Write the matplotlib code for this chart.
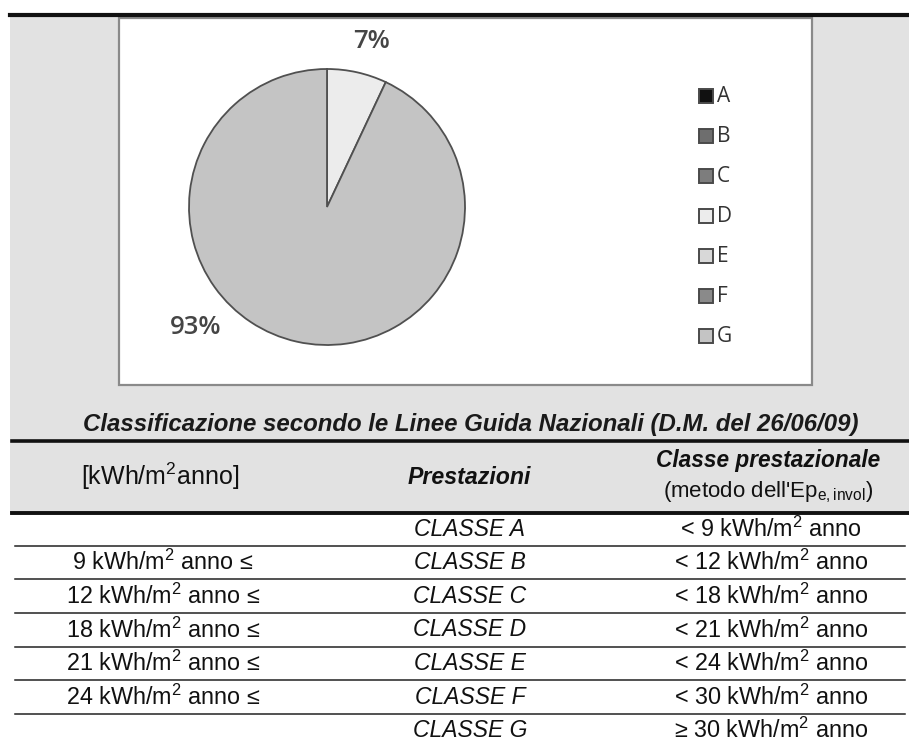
import matplotlib
matplotlib.use('Agg')
import matplotlib.pyplot as plt
from matplotlib.patches import Rectangle

# ---------------- data ----------------
classes = ['A', 'B', 'C', 'D', 'E', 'F', 'G']
shares = [0, 0, 0, 7, 0, 0, 93]          # percent of buildings per class
class_colors = ['#111111', '#6e6e6e', '#7d7d7d', '#ececec', '#d8d8d8', '#8a8a8a', '#c4c4c4']

title = 'Classificazione secondo le Linee Guida Nazionali (D.M. del 26/06/09)'
thresholds = [9, 12, 18, 21, 24, 30]      # kWh/m2 anno
SQ = r'$^{\mathregular{2}}$'
unit = f'kWh/m{SQ} anno'
lower_labels = [''] + [f'{t} {unit} ≤' for t in thresholds[:-1]] + ['']
class_labels = [f'CLASSE {c}' for c in classes]
upper_labels = [f'< {t} {unit}' for t in thresholds] + [f'≥ {thresholds[-1]} {unit}']

# ---------------- figure ----------------
W, H = 909, 742
plt.rcParams['mathtext.fontset'] = 'custom'
plt.rcParams['mathtext.rm'] = 'Liberation Sans'
plt.rcParams['mathtext.it'] = 'Liberation Sans:italic'
TF = ['Liberation Sans', 'DejaVu Sans']
CF = ['Open Sans', 'DejaVu Sans']

fig = plt.figure(figsize=(W / 100, H / 100), dpi=100)
ax = fig.add_axes([0, 0, 1, 1])


def fy(y):
    return H - y

GREY = '#e2e2e2'
# grey page block
ax.add_patch(Rectangle((10, fy(513)), W - 10, 513 - 16, facecolor=GREY, edgecolor='none', zorder=0))
# white chart box
ax.add_patch(Rectangle((119, fy(385)), 812 - 119, 385 - 18, facecolor='white',
                       edgecolor='#8a8a8a', linewidth=1.6, zorder=1))

# pie (only non-zero classes form wedges)
vals = [s for s in shares if s > 0]
cols = [c for s, c in zip(shares, class_colors) if s > 0]
wedges, _ = ax.pie(vals, colors=cols, startangle=90, counterclock=False,
                   center=(327, fy(207)), radius=138, frame=True,
                   wedgeprops=dict(edgecolor='#505050', linewidth=1.3))
for w in wedges:
    w.set_zorder(3)

ax.text(371, fy(41), f'{vals[0]}%', family=CF, fontsize=18.5, fontweight='semibold',
        color='#454545', ha='center', va='center', zorder=4)
ax.text(196, fy(327), f'{vals[1]}%', family=CF, fontsize=18.5, fontweight='semibold',
        color='#454545', ha='center', va='center', zorder=4)

# legend
leg_y0, leg_dy = 96, 40
for i, (c, col) in enumerate(zip(classes, class_colors)):
    y = leg_y0 + i * leg_dy
    ax.add_patch(Rectangle((699, fy(y + 7)), 14, 14, facecolor=col,
                           edgecolor='#4a4a4a', linewidth=1.4, zorder=4))
    ax.text(717, fy(y), c, family=CF, fontsize=15, color='#333333',
            ha='left', va='center', zorder=4)

# horizontal rules
ax.plot([10, W], [fy(15), fy(15)], color='#111111', linewidth=3.0, zorder=5)
ax.plot([12, W], [fy(441), fy(441)], color='#111111', linewidth=2.6, zorder=5)
ax.plot([12, W], [fy(513), fy(513)], color='#111111', linewidth=2.8, zorder=5)

# title
ax.text(471, fy(425), title, family=TF, fontsize=17.3, fontweight='bold', style='italic',
        color='#1a1a1a', ha='center', va='center', zorder=5)

# header row
ax.text(160, fy(476), f'[kWh/m{SQ}anno]', family=TF, fontsize=18, color='#111111',
        ha='center', va='center')
ax.text(469, fy(478), 'Prestazioni', family=TF, fontsize=16.7, fontweight='bold',
        style='italic', color='#111111', ha='center', va='center')
ax.text(768, fy(461), 'Classe prestazionale', family=TF, fontsize=16.3, fontweight='bold',
        style='italic', color='#111111', ha='center', va='center')
ax.text(768, fy(492), "(metodo dell'Ep$_{\\mathregular{e,invol}}$)", family=TF, fontsize=16,
        color='#111111', ha='center', va='center')

# body rows
row_y0, row_dy = 529, 33.6
for i in range(len(classes)):
    y = row_y0 + i * row_dy
    ax.text(163, fy(y), lower_labels[i], family=TF, fontsize=16.8, color='#111111',
            ha='center', va='center')
    ax.text(470, fy(y), class_labels[i], family=TF, fontsize=16.5, style='italic',
            color='#111111', ha='center', va='center')
    ax.text(771, fy(y), upper_labels[i], family=TF, fontsize=16.8, color='#111111',
            ha='center', va='center')
    if i < len(classes) - 1:
        yl = y + row_dy / 2
        ax.plot([15, W - 4], [fy(yl), fy(yl)], color='#222222', linewidth=1.1, zorder=5)

ax.set_xlim(0, W)
ax.set_ylim(0, H)
ax.set_aspect('auto')
ax.axis('off')
fig.savefig('out.png', dpi=100, facecolor='white')
